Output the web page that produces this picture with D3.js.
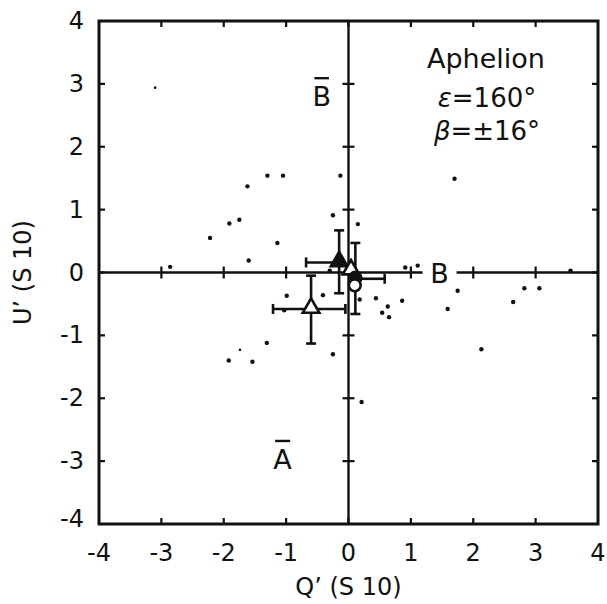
<!DOCTYPE html>
<html>
<head>
<meta charset="utf-8">
<script src="https://cdn.jsdelivr.net/npm/d3@7"></script>
<style>
body { margin: 0; background: #fff; }
text { font-family: "DejaVu Sans", sans-serif; fill: #111; }
</style>
</head>
<body>
<div class="chart"></div>
<script>
// scattered single measurements (Q', U')
var dotQ = [-3.10,-1.30,-1.05,-0.13,-1.62,-1.91,-1.75,-0.25,-2.22,-1.14,-1.60,-2.86,1.70,0.15,0.91,1.11,3.56,-0.99,-1.03,-0.41,-1.31,-1.74,-1.92,-1.54,-0.25,0.44,0.63,0.54,0.65,0.86,1.59,1.75,2.64,2.82,3.06,2.13,0.21,0.18,-0.30];
var dotU = [2.94,1.54,1.54,1.54,1.37,0.78,0.84,0.91,0.55,0.47,0.19,0.09,1.49,0.77,0.08,0.11,0.03,-0.37,-0.60,-0.36,-1.12,-1.23,-1.40,-1.42,-1.30,-0.41,-0.54,-0.64,-0.71,-0.45,-0.58,-0.29,-0.47,-0.25,-0.25,-1.22,-2.06,-0.43,0.03];
var dotSmall = [0, 21];

// averaged points with error bars
var avgType = ["triFilled","triOpen","circFilled","circOpen","triOpen"];
var avgQ    = [-0.15, 0.04, 0.11, 0.10, -0.60];
var avgU    = [ 0.16, 0.03, -0.10, -0.22, -0.58];
var avgQlo  = [-0.68, null, null, null, -1.21];
var avgQhi  = [ null, null, 0.58, null, -0.05];
var avgUlo  = [-0.33, null, -0.66, null, -1.13];
var avgUhi  = [ 0.67, null, 0.47, null, -0.05];

var ticks = [-4,-3,-2,-1,0,1,2,3,4];

var W = 607, H = 604;
var x = d3.scaleLinear().domain([-4,4]).range([99,598]);
var y = d3.scaleLinear().domain([-4,4]).range([524,21]);

var svg = d3.select(".chart").append("svg").attr("width",W).attr("height",H);

// frame ticks (inward) on all sides
var tk = svg.append("g").attr("stroke","#111").attr("stroke-width",2.2);
ticks.slice(1,-1).forEach(function(t){
    tk.append("line").attr("x1",x(t)).attr("x2",x(t)).attr("y1",y(4)).attr("y2",y(4)+6);
    tk.append("line").attr("x1",x(t)).attr("x2",x(t)).attr("y1",y(-4)).attr("y2",y(-4)-6);
    tk.append("line").attr("y1",y(t)).attr("y2",y(t)).attr("x1",x(-4)).attr("x2",x(-4)+6);
    tk.append("line").attr("y1",y(t)).attr("y2",y(t)).attr("x1",x(4)).attr("x2",x(4)-6);
    if (t !== 0) {
        tk.append("line").attr("x1",x(t)).attr("x2",x(t)).attr("y1",y(0)-6).attr("y2",y(0)+6);
        tk.append("line").attr("y1",y(t)).attr("y2",y(t)).attr("x1",x(0)-6).attr("x2",x(0)+6);
    }
});

// axes through origin
svg.append("line").attr("x1",x(-4)).attr("x2",x(4)).attr("y1",y(0)).attr("y2",y(0))
    .attr("stroke","#111").attr("stroke-width",2.4);
svg.append("line").attr("x1",x(0)).attr("x2",x(0)).attr("y1",y(-4)).attr("y2",y(4))
    .attr("stroke","#111").attr("stroke-width",2.4);

// frame
svg.append("rect").attr("x",x(-4)).attr("y",y(4)).attr("width",x(4)-x(-4)).attr("height",y(-4)-y(4))
    .attr("fill","none").attr("stroke","#111").attr("stroke-width",3);

// tick labels
svg.append("g").selectAll("text").data(ticks).enter().append("text")
    .attr("x",function(d){ return x(d); }).attr("y",561)
    .attr("text-anchor","middle").attr("font-size",24)
    .text(function(d){ return d; });
svg.append("g").selectAll("text").data(ticks).enter().append("text")
    .attr("x",84).attr("y",function(d){ return d === -4 ? y(d)+3 : y(d)+8; })
    .attr("text-anchor","end").attr("font-size",24)
    .text(function(d){ return d; });

// axis titles
svg.append("text").attr("x",x(0)).attr("y",595).attr("text-anchor","middle").attr("font-size",24)
    .text("Q’ (S 10)");
svg.append("text").attr("transform","translate(31,"+y(0)+") rotate(-90)").attr("text-anchor","middle")
    .attr("font-size",24).text("U’ (S 10)");

// dots
svg.append("g").selectAll("circle").data(d3.range(dotQ.length)).enter().append("circle")
    .attr("cx",function(i){ return x(dotQ[i]); })
    .attr("cy",function(i){ return y(dotU[i]); })
    .attr("r",function(i){ return dotSmall.indexOf(i) >= 0 ? 1.3 : 2.2; })
    .attr("fill","#111");

// error bars
var eb = svg.append("g").attr("stroke","#111").attr("stroke-width",2.6);
avgQ.forEach(function(q,i){
    var u = avgU[i];
    [avgQlo[i], avgQhi[i]].forEach(function(e){
        if (e === null) return;
        eb.append("line").attr("x1",x(q)).attr("x2",x(e)).attr("y1",y(u)).attr("y2",y(u));
        eb.append("line").attr("x1",x(e)).attr("x2",x(e)).attr("y1",y(u)-5).attr("y2",y(u)+5);
    });
    [avgUlo[i], avgUhi[i]].forEach(function(e){
        if (e === null) return;
        eb.append("line").attr("x1",x(q)).attr("x2",x(q)).attr("y1",y(u)).attr("y2",y(e));
        eb.append("line").attr("x1",x(q)-5).attr("x2",x(q)+5).attr("y1",y(e)).attr("y2",y(e));
    });
});

// markers
var tri = d3.symbol().type(d3.symbolTriangle).size(120);
var circ = d3.symbol().type(d3.symbolCircle).size(110);
svg.append("g").selectAll("path").data(d3.range(avgQ.length)).enter().append("path")
    .attr("transform",function(i){ return "translate("+x(avgQ[i])+","+(y(avgU[i])-1)+")"; })
    .attr("d",function(i){ return avgType[i].indexOf("tri") === 0 ? tri() : circ(); })
    .attr("fill",function(i){ return avgType[i].indexOf("Filled") > 0 ? "#111" : "#fff"; })
    .attr("stroke","#111").attr("stroke-width",2.6);

// region labels
var fsLab = 27;
function barLabel(txt, qx, uy, bar) {
    var t = svg.append("text").attr("x",x(qx)).attr("y",y(uy)).attr("text-anchor","middle")
        .attr("font-size",fsLab).text(txt);
    if (bar) {
        var bb = t.node().getBBox();
        var top = y(uy) - fsLab * 0.73 - 8;
        svg.append("line").attr("x1",bb.x+2).attr("x2",bb.x+bb.width-2)
            .attr("y1",top).attr("y2",top).attr("stroke","#111").attr("stroke-width",2.4);
    }
    return t;
}
barLabel("B", -0.43, 2.65, true);
barLabel("A", -1.06, -3.12, true);

// B on the axis, with a gap in the axis line
var bx = x(1.46), by = y(0) + 10;
var gapW = 26;
svg.append("rect").attr("x",bx-gapW/2-4).attr("y",y(0)-3).attr("width",gapW+8).attr("height",6).attr("fill","#fff");
svg.append("text").attr("x",bx).attr("y",by).attr("text-anchor","middle").attr("font-size",fsLab).text("B");

// annotation
var ann = svg.append("text").attr("text-anchor","middle").attr("font-size",27);
ann.append("tspan").attr("x",486).attr("y",68).text("Aphelion");
ann.append("tspan").attr("x",487).attr("y",107).attr("font-size",26).html("<tspan font-style='italic'>ε</tspan>=160°");
ann.append("tspan").attr("x",487).attr("y",140).attr("font-size",26).html("<tspan font-style='italic'>β</tspan>=±16°");
</script>
</body>
</html>
